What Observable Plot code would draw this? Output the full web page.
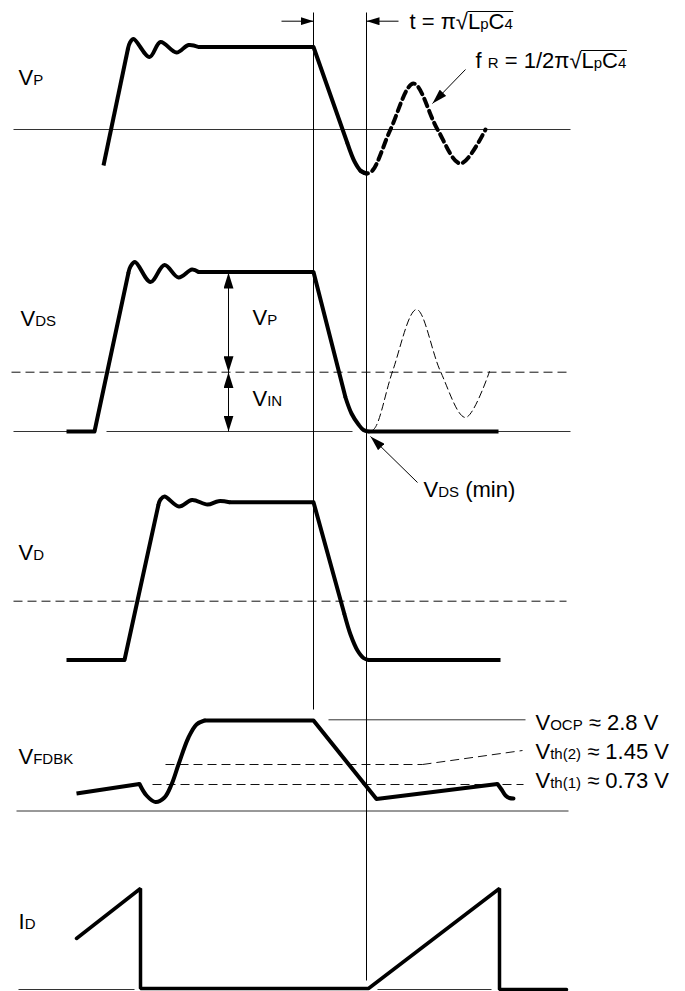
<!DOCTYPE html>
<html><head><meta charset="utf-8">
<script src="https://cdn.jsdelivr.net/npm/d3@7"></script>
<script src="https://cdn.jsdelivr.net/npm/@observablehq/plot@0.6"></script>
<style>body{margin:0;background:#fff} svg{display:block} text{white-space:pre}</style>
</head><body><div id="chart"></div>
<script>
const W = 685, H = 991;

// Thick solid waveform pieces drawn with straight segments
const straightPieces = [
  {id:"vp1",  pts:[[103,165],[127.5,48]]},
  {id:"vp2",  pts:[[198,46.5],[313,46.5],[347,143]]},
  {id:"vds1", pts:[[66,431],[94,431],[128,272]]},
  {id:"vds2", pts:[[198,271.5],[313,271.5],[345,397]]},
  {id:"vds3", pts:[[368,431],[498,431]]},
  {id:"vd1",  pts:[[66,659.5],[124,659.5],[158,504]]},
  {id:"vd2",  pts:[[229,501.7],[313,501.7],[344,614]]},
  {id:"vd3",  pts:[[368,659.5],[500,659.5]]},
  {id:"fb1",  pts:[[76,793],[139,783.5]]},
  {id:"fb2",  pts:[[204,720],[313,720],[376,798.5],[497,783.5]]}
];
// Thick solid waveform pieces drawn smooth (ringing, rounded corners)
const smoothPieces = [
  {id:"vpR",  pts:[[127.5,48],[129.5,42],[133,38.5],[149,56.5],[160,41.5],[176,52],[188,44.5],[198,46.5]]},
  {id:"vpB",  pts:[[347,143],[354,161],[360,170],[366,173]]},
  {id:"vdsR", pts:[[128,272],[130,266],[134.5,261.5],[150,281.5],[164,264.5],[178,277],[191.5,269],[198,271.5]]},
  {id:"vdsB", pts:[[345,397],[351,413],[358,424],[363,429.5],[368,431]]},
  {id:"vdR",  pts:[[158,504],[160,499],[164,496],[178.5,506],[191.5,499.5],[207,504],[218,500.7],[229,501.7]]},
  {id:"vdB",  pts:[[344,614],[350,634],[357,650],[363,657.5],[368,659.5]]},
  {id:"fbD",  pts:[[139,783.5],[146,795],[155,801.5],[164,797],[171,784],[178,764],[188,737],[196,724],[204,720]]},
  {id:"fbE",  pts:[[497,783.5],[501,789],[505,795],[509,797.5],[513,798]]}
];
// Resonance ringing after turn-off
const vpRingDashed  = [[360,170.5],[366,173],[372,170],[390,129],[413,83],[437,129],[460,163],[485,129]];
const vdsRingDashed = [[362,429.5],[368,431],[374,428],[392,371],[416,309],[440,371],[465,417],[489,371]];
// Drain current
const idWave = [[76,938],[140,888],[140,988],[368,988],[499,888],[499,989],[566,989]];

// Reference levels
const solidLevels = [
  {x1:13, x2:570, y:129},            // VP zero
  {x1:13, x2:95,  y:431},            // VDS zero
  {x1:106,x2:352, y:431},
  {x1:366,x2:570, y:431},
  {x1:16, x2:568, y:810.5},          // VFDBK zero
  {x1:328,x2:525, y:719.3},          // VOCP
  {x1:18, x2:134, y:989},            // ID zero
  {x1:377,x2:491, y:989}
];
const dashedLevels = [
  {x1:11, x2:570, y1:371.7, y2:371.7}, // VIN
  {x1:13, x2:566, y1:600.7, y2:600.7}, // VD threshold
  {x1:165,x2:422, y1:764,   y2:764},   // Vth(2)
  {x1:422,x2:522, y1:764,   y2:750},
  {x1:152,x2:523, y1:784,   y2:784}    // Vth(1)
];
const timeMarks = [
  {x:313, y1:12, y2:709},
  {x:366, y1:12, y2:980}
];
// arrows
const bigArrows = [
  {x1:228, y1:272,   x2:228, y2:371.7},
  {x1:228, y1:371.7, x2:228, y2:431}
];
const smallArrows = [
  {x1:281, y1:20.7, x2:313, y2:20.7},
  {x1:398, y1:20.7, x2:366, y2:20.7}
];
const leaderArrows = [
  {x1:465, y1:69,  x2:432, y2:103},
  {x1:417, y1:482, x2:370, y2:436}
];

const labels = [
  {x:18,  y:84,  text:"V_{P}"},
  {x:20,  y:325, text:"V_{DS}"},
  {x:252, y:324, text:"V_{P}"},
  {x:252, y:405, text:"V_{IN}"},
  {x:423, y:496, text:"V_{DS} (min)"},
  {x:18,  y:559, text:"V_{D}"},
  {x:18,  y:763, text:"V_{FDBK}"},
  {x:18,  y:928, text:"I_{D}"},
  {x:409, y:28,  text:"t = π√‾{L_{p}C_{4}}"},
  {x:475, y:67,  text:"f _{R} = 1/2π√‾{L_{p}C_{4}}"},
  {x:535, y:729, text:"V_{OCP} ≈ 2.8 V"},
  {x:535, y:758, text:"V_{th(2)} ≈ 1.45 V"},
  {x:535, y:787, text:"V_{th(1)} ≈ 0.73 V"}
];

const FS = 22, SUB = 15;
const FONT = "'Liberation Sans', Arial, sans-serif";
const rows = pieces => pieces.flatMap(p => p.pts.map(([x, y]) => ({id: p.id, x, y})));
const pts = arr => arr.map(([x, y]) => ({x, y}));

// ---- markup: _{..} subscript, ‾{..} radical vinculum ----
const ctx = document.createElement("canvas").getContext("2d");
function measure(str, size) { ctx.font = `${size}px ${FONT}`; return ctx.measureText(str).width; }
function parseMarkup(s) {
  let i = 0;
  function seq(inner) {
    const out = []; let buf = "";
    while (i < s.length) {
      const c = s[i];
      if (c === "}" && inner) { i++; break; }
      if ((c === "_" || c === "\u203E") && s[i + 1] === "{") {
        if (buf) { out.push({t: "txt", v: buf}); buf = ""; }
        i += 2;
        out.push({t: c === "_" ? "sub" : "over", kids: seq(true)});
        continue;
      }
      buf += c; i++;
    }
    if (buf) out.push({t: "txt", v: buf});
    return out;
  }
  return seq(false);
}
function walk(nodes, state, size, parent) {
  for (const n of nodes) {
    if (n.t === "txt") { if (parent) parent.append("tspan").text(n.v); state.w += measure(n.v, size); }
    else if (n.t === "sub") walk(n.kids, state, SUB, parent ? parent.append("tspan").attr("font-size", SUB) : null);
    else {
      const start = state.w;
      walk(n.kids, state, size, parent ? parent.append("tspan") : null);
      state.overs.push([start, state.w]);
    }
  }
}
// vinculum extents, derived from the label texts
const vincula = labels.flatMap(l => {
  const state = {w: 0, overs: []};
  walk(parseMarkup(l.text), state, FS, null);
  return state.overs.map(([a, b]) => ({x1: l.x + a - 0.5, x2: l.x + b + 0.5, y: l.y - 0.77 * FS}));
});

const chart = Plot.plot({
  width: W, height: H, margin: 0,
  x: {domain: [0, W], range: [0, W], axis: null},
  y: {domain: [0, H], range: [0, H], axis: null},
  style: {background: "#fff", fontFamily: FONT},
  marks: [
    Plot.link(solidLevels, {x1: "x1", x2: "x2", y1: "y", y2: "y", stroke: "#333", strokeWidth: 1}),
    Plot.link(dashedLevels, {x1: "x1", x2: "x2", y1: "y1", y2: "y2", stroke: "#111", strokeWidth: 1, strokeDasharray: "9,5"}),
    Plot.link(timeMarks, {x1: "x", x2: "x", y1: "y1", y2: "y2", stroke: "#000", strokeWidth: 1}),
    Plot.line(pts(vdsRingDashed), {x: "x", y: "y", curve: "catmull-rom", stroke: "#000", strokeWidth: 1, strokeDasharray: "7,4"}),
    Plot.line(rows(straightPieces), {x: "x", y: "y", z: "id", stroke: "#000", strokeWidth: 4, strokeLinejoin: "round", strokeLinecap: "butt"}),
    Plot.line(rows(smoothPieces), {x: "x", y: "y", z: "id", curve: "catmull-rom", stroke: "#000", strokeWidth: 4, strokeLinejoin: "round", strokeLinecap: "round"}),
    Plot.line(pts(vpRingDashed), {x: "x", y: "y", curve: "catmull-rom", stroke: "#000", strokeWidth: 4, strokeDasharray: "8,5"}),
    Plot.line(pts(idWave), {x: "x", y: "y", stroke: "#000", strokeWidth: 3.5, strokeLinejoin: "miter"}),
    Plot.link(bigArrows, {x1: "x1", y1: "y1", x2: "x2", y2: "y2", stroke: "#010101", strokeWidth: 1}),
    Plot.link(smallArrows, {x1: "x1", y1: "y1", x2: "x2", y2: "y2", stroke: "#020202", strokeWidth: 1}),
    Plot.link(leaderArrows, {x1: "x1", y1: "y1", x2: "x2", y2: "y2", stroke: "#030303", strokeWidth: 1}),
    Plot.link(vincula, {x1: "x1", x2: "x2", y1: "y", y2: "y", stroke: "#000", strokeWidth: 1.1}),
    Plot.text(labels, {x: "x", y: "y", text: "text", textAnchor: "start", lineAnchor: "bottom", fontSize: FS, fill: "#000"})
  ]
});
document.getElementById("chart").append(chart);

// ---- arrowhead markers ----
const svg = d3.select(chart);
const defs = svg.append("defs");
function marker(id, len, wid) {
  defs.append("marker").attr("id", id)
    .attr("viewBox", `0 0 ${len} ${wid}`).attr("refX", len).attr("refY", wid / 2)
    .attr("markerWidth", len).attr("markerHeight", wid)
    .attr("markerUnits", "userSpaceOnUse").attr("orient", "auto-start-reverse")
    .append("path").attr("d", `M0,0L${len},${wid / 2}L0,${wid}Z`).attr("fill", "#000");
}
marker("mBig", 16, 10);
marker("mSmall", 13, 8);
marker("mLeader", 15, 9);
function applyMarker(color, id, both) {
  svg.selectAll(`[stroke="${color}"]`).each(function () {
    const sel = this.tagName.toLowerCase() === "g" ? d3.select(this).selectAll("path") : d3.select(this);
    sel.attr("marker-end", `url(#${id})`);
    if (both) sel.attr("marker-start", `url(#${id})`);
  });
}
applyMarker("#010101", "mBig", true);
applyMarker("#020202", "mSmall", false);
applyMarker("#030303", "mLeader", false);

// ---- rich text tspans ----
const textEls = [];
svg.selectAll("text").each(function () { textEls.push(this); });
for (const el of textEls) {
  const nodes = parseMarkup(el.textContent);
  const t = d3.select(el);
  t.text(null);
  walk(nodes, {w: 0, overs: []}, FS, t);
}
</script>
</body></html>
